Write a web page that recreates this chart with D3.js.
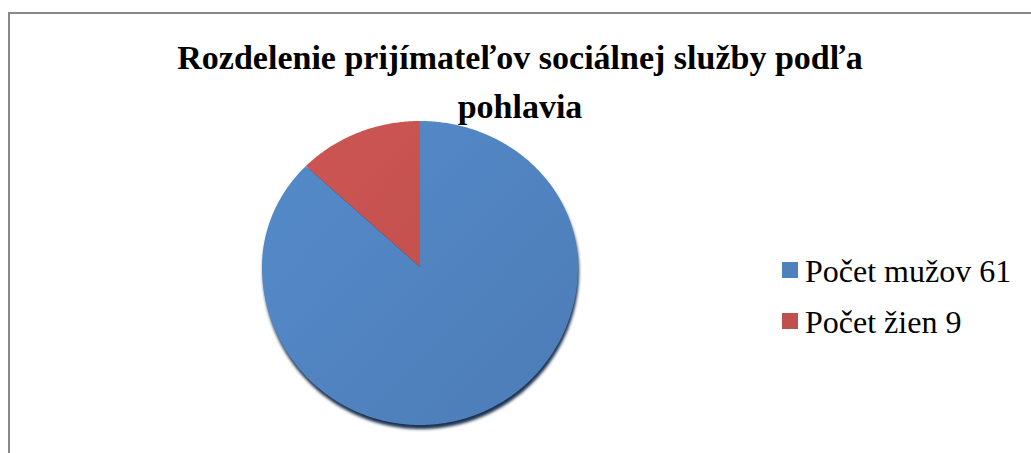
<!DOCTYPE html>
<html>
<head>
<meta charset="utf-8">
<script src="https://cdn.jsdelivr.net/npm/d3@7"></script>
</head>
<body>
<script>
var categories = ["Počet mužov", "Počet žien"];
var values = [61, 9];
var colours = ["#4f81bd", "#c0504d"];
var titleLines = ["Rozdelenie prijímateľov sociálnej služby podľa", "pohlavia"];

var width = 1031;
var height = 453;
var serif = "Tinos, 'Times New Roman', 'Liberation Serif', FreeSerif, serif";

// pie geometry: slightly tilted, so the upper half is flatter than the lower half
var cx = 420, cy = 267, rx = 158, ryTop = 146, ryBottom = 158;

d3.select("body").style("margin", "0px");

var wrap = d3.select("body").append("div")
    .style("position", "relative")
    .style("width", width + "px")
    .style("height", height + "px")
    .style("overflow", "hidden");

var svg = wrap.append("svg")
    .attr("width", width)
    .attr("height", height)
    .style("display", "block")
    .style("position", "absolute")
    .style("left", "0px")
    .style("top", "0px");

var defs = svg.append("defs");

// lighter on the left, darker on the right
colours.forEach(function(c, i) {
    var g = defs.append("linearGradient")
        .attr("id", "grad" + i)
        .attr("gradientUnits", "userSpaceOnUse")
        .attr("x1", cx - rx).attr("y1", cy - ryTop)
        .attr("x2", cx + rx).attr("y2", cy + ryBottom);
    g.append("stop").attr("offset", "0%").attr("stop-color", d3.color(c).brighter(0.2));
    g.append("stop").attr("offset", "100%").attr("stop-color", d3.color(c).darker(0.1));
});

var blur = defs.append("filter").attr("id", "shadow")
    .attr("x", "-10%").attr("y", "-10%").attr("width", "120%").attr("height", "120%");
blur.append("feGaussianBlur").attr("stdDeviation", 1.4);

// chart frame (runs off the right and bottom of the picture)
svg.append("rect")
    .attr("x", 9).attr("y", 13)
    .attr("width", 1060).attr("height", 470)
    .attr("fill", "none")
    .attr("stroke", "#888")
    .attr("stroke-width", 2);

// angle (clockwise from 12 o'clock) -> point on the tilted pie edge
var project = function(a) {
    var s = Math.sin(a), c = -Math.cos(a);
    return [cx + rx * s, cy + (c < 0 ? ryTop : ryBottom) * c];
};

var line = d3.line();

var slicePath = function(d) {
    var n = Math.max(2, Math.ceil((d.endAngle - d.startAngle) / 0.01));
    var pts = [[cx, cy]];
    d3.range(n + 1).forEach(function(k) {
        pts.push(project(d.startAngle + (d.endAngle - d.startAngle) * k / n));
    });
    return line(pts) + "Z";
};

var pie = d3.pie().sort(null).value(function(d) { return d; });
var arcs = pie(values);

// dark rim / shadow under the pie
svg.append("path")
    .attr("d", slicePath({ startAngle: 0, endAngle: 2 * Math.PI }))
    .attr("transform", "translate(1,4)")
    .attr("fill", "#1c3350")
    .attr("filter", "url(#shadow)");

svg.append("g").attr("class", "vis-series")
    .selectAll("path")
    .data(arcs)
    .enter().append("path")
    .attr("d", slicePath)
    .attr("fill", function(d, i) { return "url(#grad" + i + ")"; });

// legend squares
svg.append("g").attr("transform", "translate(782,262)")
    .selectAll("rect")
    .data(categories)
    .enter().append("rect")
    .attr("y", function(d, i) { return i * 51; })
    .attr("width", 16).attr("height", 16)
    .attr("fill", function(d, i) { return colours[i]; });

// title as html text (baselines at ~69 and ~118)
wrap.append("div")
    .style("position", "absolute")
    .style("left", "20px")
    .style("width", "1000px")
    .style("top", "33px")
    .style("text-align", "center")
    .style("font-family", serif)
    .style("font-weight", "bold")
    .style("font-size", "34px")
    .style("line-height", "49px")
    .style("color", "#000")
    .selectAll("div")
    .data(titleLines)
    .enter().append("div")
    .style("white-space", "nowrap")
    .text(function(d) { return d; });

// legend labels as html text (baselines at ~282 and ~333)
wrap.append("div")
    .style("position", "absolute")
    .style("left", "805px")
    .style("top", "246px")
    .style("font-family", serif)
    .style("font-size", "32px")
    .style("line-height", "51px")
    .style("color", "#000")
    .selectAll("div")
    .data(categories)
    .enter().append("div")
    .style("white-space", "nowrap")
    .text(function(d, i) { return d + " " + values[i]; });
</script>
</body>
</html>
